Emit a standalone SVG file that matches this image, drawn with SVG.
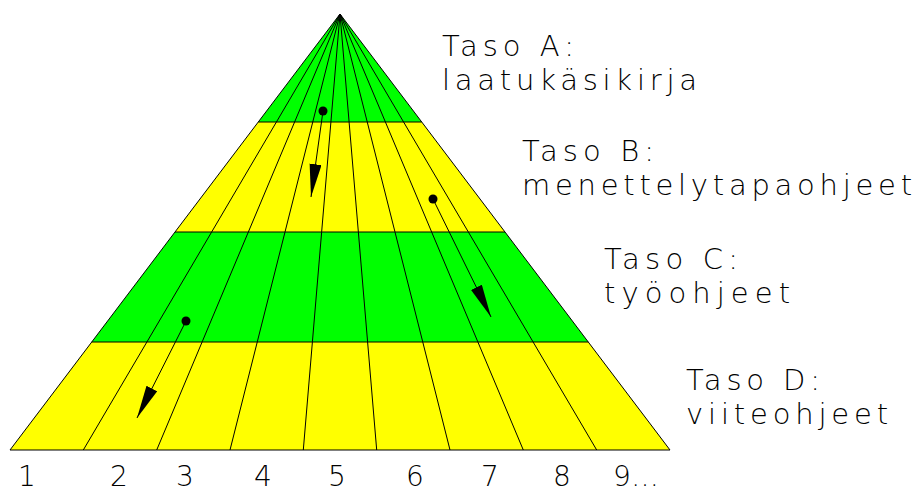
<svg xmlns="http://www.w3.org/2000/svg" width="920" height="493" viewBox="0 0 920 493">
<style>
.t{font-family:"DejaVu Sans","Liberation Sans",sans-serif;font-weight:200;font-size:29px;fill:#000}
.n{font-family:"DejaVu Sans","Liberation Sans",sans-serif;font-weight:200;font-size:28px;fill:#000;text-anchor:middle}
.g{fill:#00ff00}
.y{fill:#ffff00}
.ln{stroke:#000;stroke-width:1;fill:none}
</style>
<defs>
<marker id="ah" markerUnits="userSpaceOnUse" markerWidth="36" markerHeight="14" refX="33" refY="6" orient="auto">
<path d="M0,0 L33,6 L0,12 Z" fill="#000"/>
</marker>
</defs>
<rect width="920" height="493" fill="#fff"/>
<g id="pyramid">
<polygon class="g" points="340,14 421.7,122 258.3,122"/>
<polygon class="y" points="258.3,122 421.7,122 505,232 175,232"/>
<polygon class="g" points="175,232 505,232 588.3,342 91.7,342"/>
<polygon class="y" points="91.7,342 588.3,342 670,450 10,450"/>
</g>
<g id="connectors">
<path class="ln" d="M340,14 L10,450 L670,450 Z"/>
<path class="ln" d="M258.3,122 H421.7 M175,232 H505 M91.7,342 H588.3"/>
<path class="ln" d="M340,14 L83.3,450 M340,14 L156.7,450 M340,14 L230,450 M340,14 L303.3,450 M340,14 L376.7,450 M340,14 L450,450 M340,14 L523.3,450 M340,14 L596.7,450"/>
<circle cx="323" cy="111" r="4.5" fill="#000"/>
<line class="ln" x1="323" y1="111" x2="311" y2="197" marker-end="url(#ah)"/>
<circle cx="433" cy="199" r="4.5" fill="#000"/>
<line class="ln" x1="433" y1="199" x2="491" y2="317" marker-end="url(#ah)"/>
<circle cx="186" cy="321" r="4.5" fill="#000"/>
<line class="ln" x1="186" y1="321" x2="137" y2="418" marker-end="url(#ah)"/>
</g>
<g id="levelA">
<text class="t" x="442" y="56" textLength="132" lengthAdjust="spacing">Taso A:</text>
<text class="t" x="442" y="90" textLength="255" lengthAdjust="spacing">laatukäsikirja</text>
</g>
<g id="levelB">
<text class="t" x="522" y="161" textLength="132" lengthAdjust="spacing">Taso B:</text>
<text class="t" x="522" y="195" textLength="390" lengthAdjust="spacing">menettelytapaohjeet</text>
</g>
<g id="levelC">
<text class="t" x="604" y="269" textLength="134" lengthAdjust="spacing">Taso C:</text>
<text class="t" x="604" y="303" textLength="186" lengthAdjust="spacing">työohjeet</text>
</g>
<g id="levelD">
<text class="t" x="686" y="390" textLength="134" lengthAdjust="spacing">Taso D:</text>
<text class="t" x="686" y="424" textLength="202" lengthAdjust="spacing">viiteohjeet</text>
</g>
<g id="numbers">
<text class="n" x="27" y="486">1</text>
<text class="n" x="119" y="486">2</text>
<text class="n" x="185" y="486">3</text>
<text class="n" x="263" y="486">4</text>
<text class="n" x="337" y="486">5</text>
<text class="n" x="415" y="486">6</text>
<text class="n" x="490" y="486">7</text>
<text class="n" x="562" y="486">8</text>
<text class="n" x="636" y="486">9…</text>
</g>
</svg>
